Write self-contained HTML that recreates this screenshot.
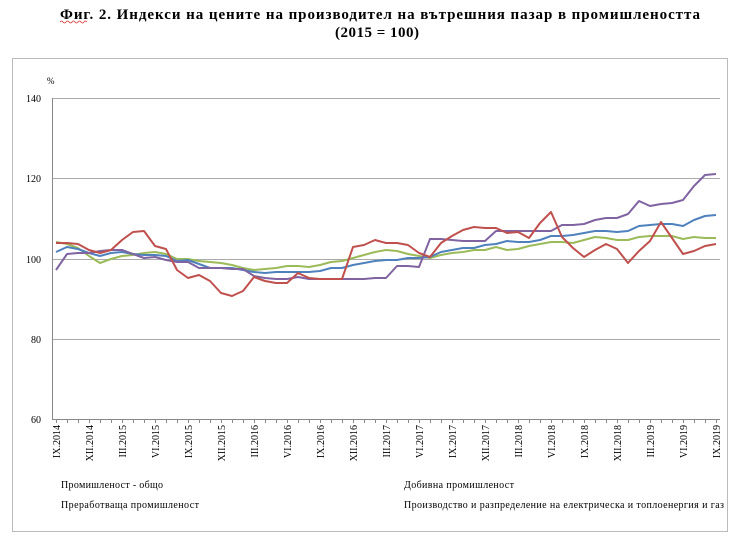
<!DOCTYPE html>
<html><head><meta charset="utf-8"><style>
body{margin:0;background:#fff;width:740px;height:538px;overflow:hidden;font-family:"Liberation Serif",serif}
</style></head><body>
<svg width="740" height="538" xmlns="http://www.w3.org/2000/svg" font-family="Liberation Serif, serif">
<text x="60" y="19" font-size="15" font-weight="bold" textLength="640" lengthAdjust="spacing">Фиг. 2. Индекси на цените на производител на вътрешния пазар в промишлеността</text>
<path d="M60 22 q1.5 -2 3 0 t3 0 t3 0 t3 0 t3 0 t3 0 t3 0 t3 0 t3 0" stroke="#d33" fill="none" stroke-width="0.8"/>
<text x="377" y="37" text-anchor="middle" font-size="15" font-weight="bold" textLength="84" lengthAdjust="spacing">(2015 = 100)</text>
<rect x="12.5" y="58.5" width="715" height="473" fill="none" stroke="#bbb"/>
<g stroke="#aaa" stroke-width="1">
<line x1="52" y1="98.5" x2="720" y2="98.5"/><line x1="52" y1="178.5" x2="720" y2="178.5"/>
<line x1="52" y1="259.5" x2="720" y2="259.5"/><line x1="52" y1="339.5" x2="720" y2="339.5"/>
</g>
<line x1="52.5" y1="98" x2="52.5" y2="420" stroke="#888"/>
<line x1="52" y1="419.5" x2="720" y2="419.5" stroke="#888"/>
<g font-size="10" text-anchor="end">
<text x="41" y="102">140</text><text x="41" y="182">120</text><text x="41" y="263">100</text><text x="41" y="343">80</text><text x="41" y="423">60</text>
</g>
<text x="47" y="84" font-size="9">%</text>
<g id="ticks" stroke="#888"></g>
<g id="labs" font-size="10"></g>
<g fill="none" stroke-width="2" stroke-linejoin="round">
<polyline id="green" stroke="#9bbb59"/>
<polyline id="blue" stroke="#4f81bd"/>
<polyline id="purple" stroke="#8064a2"/>
<polyline id="red" stroke="#c0504d"/>
</g>
<g font-size="10">
<text x="61" y="488" textLength="102" lengthAdjust="spacing">Промишленост - общо</text>
<text x="61" y="508" textLength="138" lengthAdjust="spacing">Преработваща промишленост</text>
<text x="404" y="488" textLength="110" lengthAdjust="spacing">Добивна промишленост</text>
<text x="404" y="508" textLength="320" lengthAdjust="spacing">Производство и разпределение на електрическа и топлоенергия и газ</text>
</g>
</svg>
<script>
const red=[243,243,244,250,253,250,240,232,231,246,249,270,278,275,281,293,296,291,277,281,283,283,273,278,279,279,279,247,245,240,243,243,245,253,257,243,236,230,227,228,228,233,232,238,223,212,237,248,257,250,244,249,263,251,241,222,238,254,251,246,244];
const purple=[270,254,253,253,251,250,250,254,258,257,260,262,262,268,268,268,269,269,276,278,279,279,277,279,279,279,279,279,279,278,278,266,266,267,239,239,240,241,241,241,231,231,231,231,231,231,225,225,224,220,218,218,214,201,206,204,203,200,186,175,174];
const blue=[252,247,249,253,256,253,252,254,255,255,256,261,260,264,268,268,268,270,272,273,272,272,272,272,271,268,268,265,263,261,260,260,258,258,257,252,250,248,248,245,244,241,242,242,240,236,236,235,233,231,231,232,231,226,225,224,224,226,220,216,215];
const green=[242,244,248,256,263,259,256,255,253,252,254,259,259,261,262,263,265,268,270,269,268,266,266,267,265,262,261,258,255,252,250,251,254,256,258,255,253,252,250,250,247,250,249,246,244,242,242,243,240,237,238,240,240,237,236,236,236,239,237,238,238];
const X=i=>56+11*i;
for(const [id,d] of [["red",red],["purple",purple],["blue",blue],["green",green]])
 document.getElementById(id).setAttribute("points",d.map((y,i)=>X(i)+","+y).join(" "));
const NS="http://www.w3.org/2000/svg";
const t=document.getElementById("ticks"),l=document.getElementById("labs");
for(let i=0;i<=60;i++){const ln=document.createElementNS(NS,"line");ln.setAttribute("x1",X(i)+0.5);ln.setAttribute("x2",X(i)+0.5);ln.setAttribute("y1",419);ln.setAttribute("y2",423);t.appendChild(ln);}
const names=["IX.2014","XII.2014","III.2015","VI.2015","IX.2015","XII.2015","III.2016","VI.2016","IX.2016","XII.2016","III.2017","VI.2017","IX.2017","XII.2017","III.2018","VI.2018","IX.2018","XII.2018","III.2019","VI.2019","IX.2019"];
names.forEach((n,k)=>{const x=X(3*k)+4;const tx=document.createElementNS(NS,"text");tx.setAttribute("transform",`translate(${x},425) rotate(-90)`);tx.setAttribute("text-anchor","end");tx.textContent=n;l.appendChild(tx);});
</script>
</body></html>
